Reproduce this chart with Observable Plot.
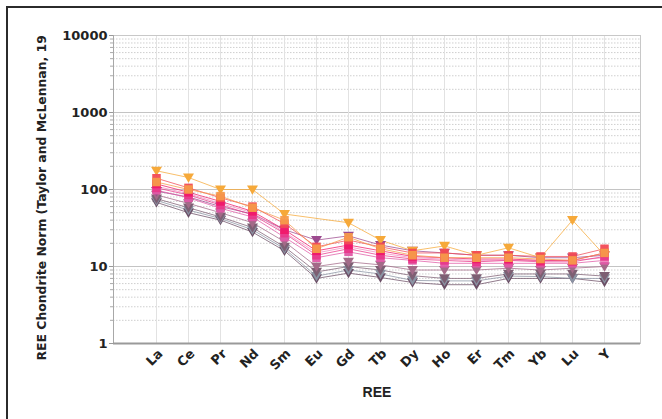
<!DOCTYPE html>
<html><head><meta charset="utf-8">
<script src="https://cdn.jsdelivr.net/npm/d3@7"></script>
<script src="https://cdn.jsdelivr.net/npm/@observablehq/plot@0.6"></script>
<style>
body{margin:0;background:#fff;}
#wrap{position:relative;width:662px;height:419px;overflow:hidden;background:#fff;}
#wrap svg{position:absolute;left:0;top:0;}
#border{position:absolute;left:6px;top:6px;width:700px;height:500px;border-left:2px solid #2b2b2b;border-top:2px solid #2b2b2b;pointer-events:none;}
</style></head><body><div id="wrap"><div id="border"></div></div>
<script>
const ree = ["La","Ce","Pr","Nd","Sm","Eu","Gd","Tb","Dy","Ho","Er","Tm","Yb","Lu","Y"];
const yTicks = [1, 10, 100, 1000, 10000];

// series values (chondrite-normalised)
const sDark1   = [68, 50, 40, 28, 16, 7.0, 8.2, 7.2, 6.2, 5.8, 5.8, 7.0, 7.0, 7.0, 6.3];
const sGray    = [72, 54, 42, 30, 17, 7.5, 9.0, 8.0, 6.6, 6.5, 6.5, 7.5, 7.4, 7.0, 7.0];
const sDark2   = [76, 58, 44, 32, 18, 8.5, 10, 9.0, 7.6, 7.0, 7.0, 8.0, 8.0, 8.0, 7.5];
const sMauve   = [85, 66, 50, 37, 21, 10, 11.5, 10.5, 9.0, 9.0, 9.0, 9.5, 9.0, 9.5, 10];
const sPurple  = [95, 80, 60, 48, 30, 22, 25, 19, 16, 15, 14, 14, 13, 13, 14];
const sMagenta = [98, 78, 57, 44, 24, 13, 15.5, 13, 12, 11, 11, 11, 11, 11, 12];
const sLtPink  = [110, 88, 66, 50, 28, 15, 18, 15, 13, 12.5, 12, 12, 12, 12, 13];
const sPink    = [105, 85, 63, 47, 27, 14, 17, 14, 12.5, 12, 11.5, 12, 11.5, 11.5, 13.5];
const sHotPink = [118, 92, 70, 52, 30, 16, 19, 16, 13.5, 13, 12.5, 12.5, 12, 12, 15];
const sRed     = [140, 105, 78, 60, 36, 18, 22, 18, 15, 15, 14, 14, 13.5, 13.5, 17];
const sOrange2 = [125, 100, 82, 58, 40, 17, 24, 17, 14, 13, 13, 13, 12.5, 12, 15];
const sOrange  = [175, 143, 100, 100, 48, null, 37, 22, 16, 18.5, 14, 17.5, 13, 40, 14];

const seriesNames = ["Dark1","Gray","Dark2","Mauve","Purple","Magenta","LtPink","Pink","HotPink","Red","Orange2","Orange"];
const seriesValues = [sDark1,sGray,sDark2,sMauve,sPurple,sMagenta,sLtPink,sPink,sHotPink,sRed,sOrange2,sOrange];
const seriesColors = ["#6c4f66","#8a93a3","#7d5f73","#a36a88","#9c4a8e","#e05aa6","#f08cc0","#e8388a","#f0186a","#f24a55","#f59a4a","#f6a93a"];
const seriesSymbols = ["tri","tri","tri","tri","tri","sq","sq","sq","sq","sq","sq","tri"];

const rows = [];
seriesValues.forEach((vals, i) => {
  vals.forEach((v, j) => {
    if (v != null) rows.push({ree: ree[j], v, series: seriesNames[i], color: seriesColors[i], sym: seriesSymbols[i]});
  });
});

const triDown = {
  draw(ctx, size) {
    const w = Math.sqrt(size) * 0.62;
    ctx.moveTo(-w, -w * 0.75);
    ctx.lineTo(w, -w * 0.75);
    ctx.lineTo(0, w * 0.95);
    ctx.closePath();
  }
};

const minor = [];
for (const d of [1, 10, 100, 1000]) for (let k = 2; k <= 9; k++) minor.push(k * d);

const chart = Plot.plot({
  width: 662,
  height: 419,
  marginLeft: 113,
  marginTop: 35,
  marginRight: 22,
  marginBottom: 76,
  style: {fontFamily: "'DejaVu Sans', sans-serif", fontSize: "12px", background: "transparent", color: "#222"},
  x: {type: "point", domain: ree, padding: 1.09, align: 0.55},
  y: {type: "log", domain: [1, 10000]},
  color: {type: "identity"},
  marks: [
    Plot.ruleY(minor, {stroke: "#cfcfcf", strokeWidth: 1, strokeDasharray: "1.5,1.5"}),
    Plot.ruleY(yTicks, {stroke: "#c4c4c4", strokeWidth: 1}),
    Plot.ruleX(ree, {stroke: "#e2e2e2", strokeWidth: 1}),
    Plot.frame({anchor: "top", stroke: "#c8c8c8"}),
    Plot.frame({anchor: "right", stroke: "#c8c8c8"}),
    Plot.frame({anchor: "left", stroke: "#a8a8a8"}),
    Plot.ruleY([1], {stroke: "#9a9a9a", strokeWidth: 2}),
    Plot.axisY({ticks: minor, tickFormat: () => "", tickSize: 3, stroke: "#aaa", label: null}),
    Plot.axisY({ticks: yTicks, tickFormat: d => String(d), tickSize: 4, tickPadding: 2, fontWeight: "bold", fontSize: 13, stroke: "#999", label: null}),
    Plot.axisX({tickRotate: -45, tickSize: 0, tickPadding: 8, fontWeight: "bold", fontSize: 13, dx: 4, label: null}),
    Plot.text(["REE Chondrite Norm (Taylor and McLennan, 19"], {frameAnchor: "bottom-left", dx: -68, dy: 17, rotate: -90, textAnchor: "start", fontWeight: "bold", fontSize: 12.4, fill: "#222"}),
    Plot.text(["REE"], {frameAnchor: "bottom", dy: 53, fontSize: 14, fill: "#222", fontFamily: "'Liberation Sans', Arial, sans-serif", fontWeight: "bold"}),
    Plot.line(rows, {x: "ree", y: "v", z: "series", stroke: "color", strokeWidth: 1, strokeOpacity: 0.75}),
    Plot.dot(rows.filter(d => d.sym === "tri"), {x: "ree", y: "v", fill: "color", r: 5, symbol: triDown, stroke: "none"}),
    Plot.dot(rows.filter(d => d.sym === "sq"), {x: "ree", y: "v", fill: "color", r: 4.8, symbol: "square", stroke: "none", fillOpacity: 0.95})
  ]
});
document.getElementById("wrap").insertBefore(chart, document.getElementById("border"));
</script></body></html>
